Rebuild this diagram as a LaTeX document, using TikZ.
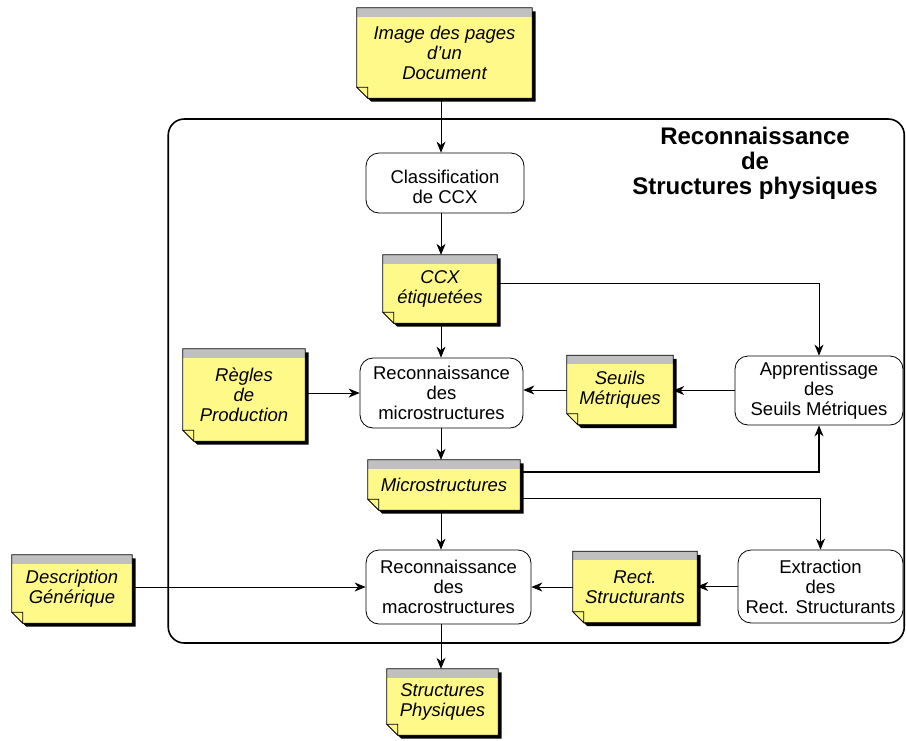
\documentclass[tikz,border=0pt]{standalone}
\usepackage{fontspec}
\setmainfont{Liberation Sans}
\usetikzlibrary{arrows.meta,backgrounds}

\definecolor{noteyellow}{RGB}{255,249,138}
\definecolor{notegray}{RGB}{192,192,192}

% Sticky-note decoration behind a named node: drop shadow, yellow sheet
% with a grey header strip and a folded lower-left corner.
\newcommand\stickynote[1]{%
  \begin{scope}[on background layer]
    \fill[black, transform canvas={shift={(3.5pt,-3.5pt)}}]
      (#1.north west) -- (#1.north east) -- (#1.south east)
      -- ([xshift=11pt]#1.south west) -- ([yshift=11pt]#1.south west) -- cycle;
    \fill[noteyellow]
      (#1.north west) -- (#1.north east) -- (#1.south east)
      -- ([xshift=11pt]#1.south west) -- ([yshift=11pt]#1.south west) -- cycle;
    \fill[notegray] (#1.north west) rectangle ([yshift=-9pt]#1.north east);
    \draw[line width=0.7pt, line join=miter]
      (#1.north west) -- (#1.north east) -- (#1.south east)
      -- ([xshift=11pt]#1.south west) -- ([yshift=11pt]#1.south west) -- cycle;
    \filldraw[fill=noteyellow, draw=black, line width=0.7pt]
      ([yshift=11pt]#1.south west) -- ([shift={(11pt,11pt)}]#1.south west)
      -- ([xshift=11pt]#1.south west) -- cycle;
  \end{scope}}

\begin{document}
\begin{tikzpicture}[x=1pt, y=-1pt,
  note/.style={inner sep=0pt, align=center,
    font=\fontsize{18.5}{20}\selectfont\itshape},
  procbox/.style={draw, fill=white, line width=0.8pt, rounded corners=13pt,
    inner sep=0pt, align=center, font=\fontsize{18.5}{20}\selectfont},
  arr/.style={-{Stealth[length=11pt,width=9pt,inset=3.5pt]}, line width=0.7pt},
  groupframe/.style={draw, line width=1.6pt, rounded corners=16pt, inner sep=0pt}]

\useasboundingbox (0,0) rectangle (906,740);

% enclosing group
\node[groupframe, minimum width=736pt, minimum height=524pt] (frame) at (536.25,381) {};
\node[align=center, inner sep=0pt, font=\fontsize{24}{25}\selectfont\bfseries]
  (title) at (755,163) {Reconnaissance\\de\\Structures physiques};

% shared vertical axis of the main chain
\coordinate (spine) at (441,0);

% data (sticky notes)
\node[note, minimum width=175pt, minimum height=90pt] (doc) at (444.5,53)
  {Image des pages\\d\symbol{"0027}un\\Document};
\node[note, minimum width=114pt, minimum height=68pt] (ccx) at (440,289)
  {CCX\\étiquetées};
\node[note, minimum width=122pt, minimum height=92pt] (regles) at (244,395)
  {Règles\\de\\Production};
\node[note, minimum width=106pt, minimum height=69pt] (seuils) at (620,390)
  {Seuils\\Métriques};
\node[note, minimum width=152pt, minimum height=50pt] (microst) at (444,485)
  {Microstructures};
\node[note, minimum width=120pt, minimum height=68pt] (desc) at (72,589)
  {Description\\Générique};
\node[note, minimum width=124pt, minimum height=71pt] (rect) at (635,587)
  {Rect.\\Structurants};
\node[note, minimum width=111pt, minimum height=66pt] (structph) at (442.5,702)
  {Structures\\Physiques};

\stickynote{doc}
\stickynote{ccx}
\stickynote{regles}
\stickynote{seuils}
\stickynote{microst}
\stickynote{desc}
\stickynote{rect}
\stickynote{structph}

% processes
\node[procbox, minimum width=158pt, minimum height=60pt] (classif) at (445,183)
  {\rule{0pt}{21pt}Classification\\de CCX};
\node[procbox, minimum width=163pt, minimum height=70pt] (recmicro) at (441.5,393)
  {Reconnaissance\\des\\microstructures};
\node[procbox, minimum width=168pt, minimum height=69pt] (appr) at (819,390.5)
  {Apprentissage\\des\\Seuils Métriques};
\node[procbox, minimum width=165pt, minimum height=74pt] (recmacro) at (448.5,587)
  {Reconnaissance\\des\\macrostructures};
\node[procbox, minimum width=165pt, minimum height=73pt] (extr) at (820.5,586.5)
  {Extraction\\des\\Rect. Structurants};

% main chain
\draw[arr] (doc.south -| spine) -- (classif.north -| spine);
\draw[arr] (classif.south -| spine) -- (ccx.north -| spine);
\draw[arr] (ccx.south -| spine) -- (recmicro.north -| spine);
\draw[arr] (recmicro.south -| spine) -- (microst.north -| spine);
\draw[arr] (microst.south -| spine) -- (recmacro.north -| spine);
\draw[arr] (recmacro.south -| spine) -- (structph.north -| spine);

% threshold learning loop
\draw[arr] ([yshift=6pt]ccx.east) -| (appr.north);
\draw[arr] (appr.west) -- (appr.west -| seuils.east);
\draw[arr] (seuils.west) -- (seuils.west -| recmicro.east);
\draw[arr] (recmicro.west -| regles.east) -- (recmicro.west);
\draw[arr, line width=1.2pt] ([yshift=13pt]microst.east) -| (appr.south);

% structuring rectangles
\draw[arr] ([yshift=-13pt]microst.east) -| (extr.north);
\draw[arr] (extr.west) -- (extr.west -| rect.east);
\draw[arr] (rect.west) -- (rect.west -| recmacro.east);
\draw[arr] (recmacro.west -| desc.east) -- (recmacro.west);

\end{tikzpicture}
\end{document}
